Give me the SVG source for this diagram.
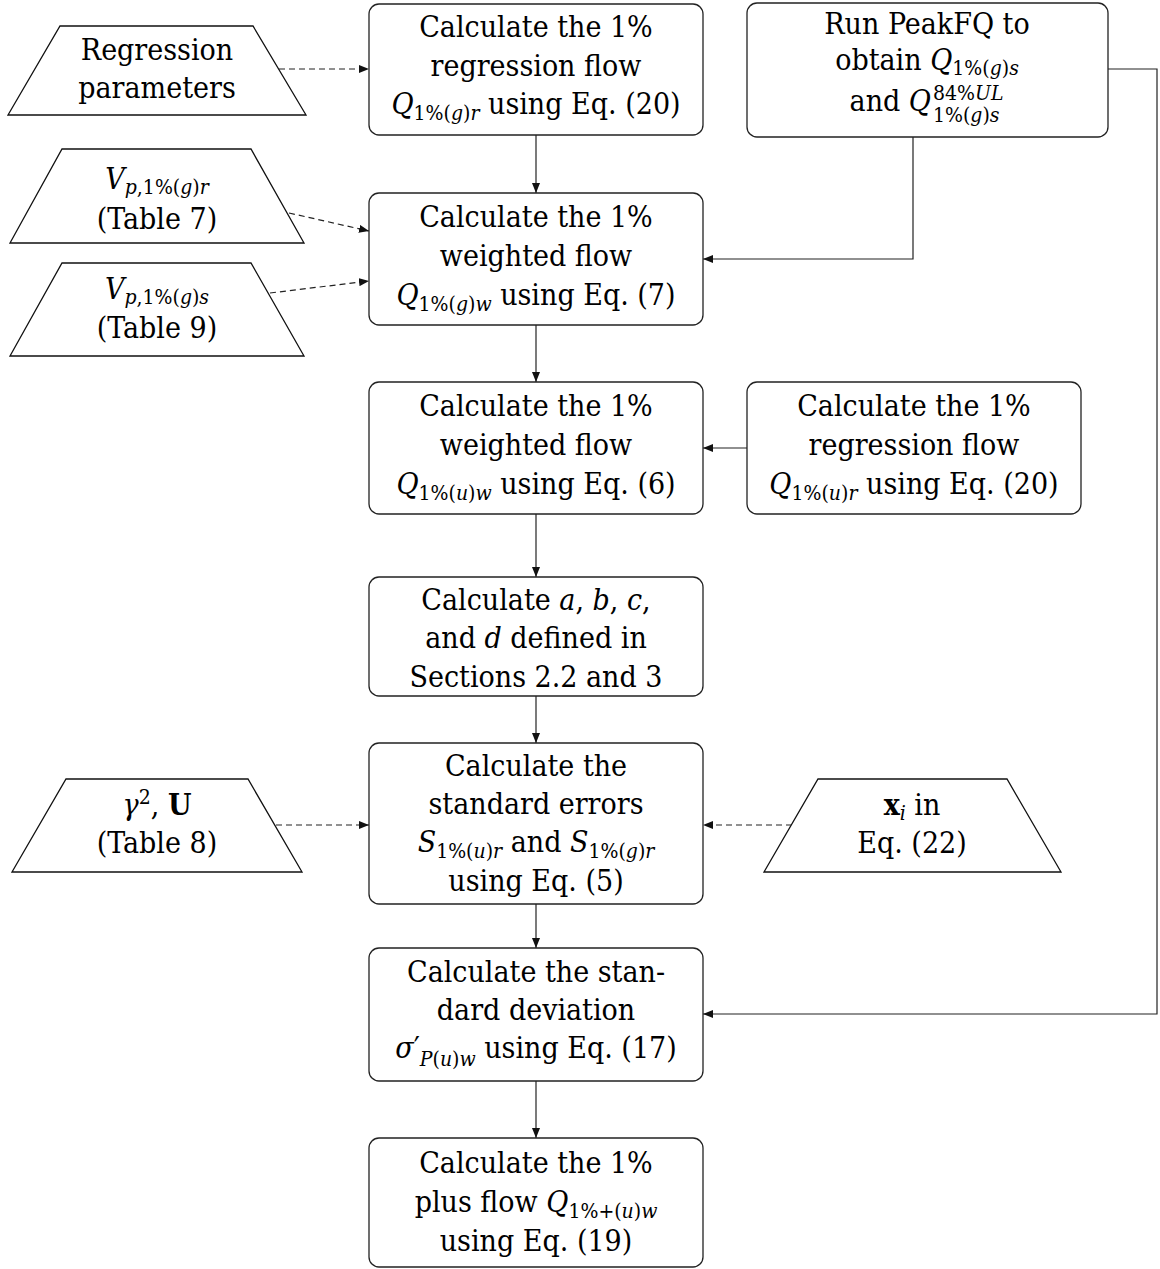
<svg xmlns="http://www.w3.org/2000/svg" width="1160" height="1269" viewBox="0 0 1160 1269">
<style>
.box{fill:#fff;stroke:#222;stroke-width:1.3}
.io{fill:#fff;stroke:#111;stroke-width:1.3}
.t,.ts{font-family:"DejaVu Serif Condensed","DejaVu Serif","Liberation Serif",serif;font-stretch:condensed;font-size:30px;fill:#000}
.t{text-anchor:middle}
.i{font-style:italic}
.b{font-weight:bold}
.s{font-size:21px}
.ln{fill:none;stroke:#222;stroke-width:1.2}
.d{fill:none;stroke:#222;stroke-width:1.2;stroke-dasharray:6 4}
</style>
<defs>
<marker id="ah" markerUnits="userSpaceOnUse" markerWidth="10" markerHeight="8" refX="10" refY="4" orient="auto">
<path d="M0,0 L10,4 L0,8 z" fill="#111"/>
</marker>
</defs>
<rect width="1160" height="1269" fill="#fff"/>

<g id="connectors">
<path class="d" d="M279,69 L369,69" marker-end="url(#ah)"/>
<path class="d" d="M289,213 L369,231" marker-end="url(#ah)"/>
<path class="d" d="M270,293 L369,281" marker-end="url(#ah)"/>
<path class="ln" d="M536,135 L536,193" marker-end="url(#ah)"/>
<path class="ln" d="M913,137 L913,259 L703,259" marker-end="url(#ah)"/>
<path class="ln" d="M1108,69 L1157,69 L1157,1014 L703,1014" marker-end="url(#ah)"/>
<path class="ln" d="M536,325 L536,382" marker-end="url(#ah)"/>
<path class="ln" d="M747,448 L703,448" marker-end="url(#ah)"/>
<path class="ln" d="M536,514 L536,577" marker-end="url(#ah)"/>
<path class="ln" d="M536,696 L536,743" marker-end="url(#ah)"/>
<path class="d" d="M276,825 L369,825" marker-end="url(#ah)"/>
<path class="d" d="M792,825 L703,825" marker-end="url(#ah)"/>
<path class="ln" d="M536,904 L536,948" marker-end="url(#ah)"/>
<path class="ln" d="M536,1081 L536,1138" marker-end="url(#ah)"/>
</g>

<g id="in-regression-params">
<polygon class="io" points="60,26 253,26 306,115 8,115"/>
<text class="t" x="157" y="60">Regression</text>
<text class="t" x="157" y="98">parameters</text>
</g>

<g id="calc-regression-g">
<rect class="box" x="369" y="4" width="334" height="131" rx="10"/>
<text class="t" x="536" y="37">Calculate the 1%</text>
<text class="t" x="536" y="76">regression flow</text>
<text class="t" x="536" y="114"><tspan class="i">Q</tspan><tspan class="s" dy="6">1%(<tspan class="i">g</tspan>)<tspan class="i">r</tspan></tspan><tspan dy="-6"> using Eq. (20)</tspan></text>
</g>

<g id="peakfq">
<rect class="box" x="747" y="3" width="361" height="134" rx="10"/>
<text class="t" x="927" y="34">Run PeakFQ to</text>
<text class="t" x="927" y="70">obtain <tspan class="i">Q</tspan><tspan class="s" dy="5">1%(<tspan class="i">g</tspan>)<tspan class="i">s</tspan></tspan></text>
<text class="ts" x="931" y="111" text-anchor="end">and <tspan class="i">Q</tspan></text>
<text class="ts s" x="933" y="100">84%<tspan class="i">UL</tspan></text>
<text class="ts s" x="933" y="122">1%(<tspan class="i">g</tspan>)<tspan class="i">s</tspan></text>
</g>

<g id="in-vp-r">
<polygon class="io" points="62,149 251,149 304,243 10,243"/>
<text class="t" x="157" y="189"><tspan class="i">V</tspan><tspan class="s" dy="5"><tspan class="i">p</tspan>,1%(<tspan class="i">g</tspan>)<tspan class="i">r</tspan></tspan></text>
<text class="t" x="157" y="229">(Table 7)</text>
</g>

<g id="in-vp-s">
<polygon class="io" points="62,263 251,263 304,356 10,356"/>
<text class="t" x="157" y="299"><tspan class="i">V</tspan><tspan class="s" dy="5"><tspan class="i">p</tspan>,1%(<tspan class="i">g</tspan>)<tspan class="i">s</tspan></tspan></text>
<text class="t" x="157" y="338">(Table 9)</text>
</g>

<g id="calc-weighted-g">
<rect class="box" x="369" y="193" width="334" height="132" rx="10"/>
<text class="t" x="536" y="227">Calculate the 1%</text>
<text class="t" x="536" y="266">weighted flow</text>
<text class="t" x="536" y="305"><tspan class="i">Q</tspan><tspan class="s" dy="6">1%(<tspan class="i">g</tspan>)<tspan class="i">w</tspan></tspan><tspan dy="-6"> using Eq. (7)</tspan></text>
</g>

<g id="calc-weighted-u">
<rect class="box" x="369" y="382" width="334" height="132" rx="10"/>
<text class="t" x="536" y="416">Calculate the 1%</text>
<text class="t" x="536" y="455">weighted flow</text>
<text class="t" x="536" y="494"><tspan class="i">Q</tspan><tspan class="s" dy="6">1%(<tspan class="i">u</tspan>)<tspan class="i">w</tspan></tspan><tspan dy="-6"> using Eq. (6)</tspan></text>
</g>

<g id="calc-regression-u">
<rect class="box" x="747" y="382" width="334" height="132" rx="10"/>
<text class="t" x="914" y="416">Calculate the 1%</text>
<text class="t" x="914" y="455">regression flow</text>
<text class="t" x="914" y="494"><tspan class="i">Q</tspan><tspan class="s" dy="6">1%(<tspan class="i">u</tspan>)<tspan class="i">r</tspan></tspan><tspan dy="-6"> using Eq. (20)</tspan></text>
</g>

<g id="calc-abcd">
<rect class="box" x="369" y="577" width="334" height="119" rx="10"/>
<text class="t" x="536" y="610">Calculate <tspan class="i">a</tspan>, <tspan class="i">b</tspan>, <tspan class="i">c</tspan>,</text>
<text class="t" x="536" y="648">and <tspan class="i">d</tspan> defined in</text>
<text class="t" x="536" y="687">Sections 2.2 and 3</text>
</g>

<g id="in-gamma-u">
<polygon class="io" points="66,779 248,779 302,872 12,872"/>
<text class="t" x="157" y="815"><tspan class="i">γ</tspan><tspan class="s" dy="-11">2</tspan><tspan dy="11">, </tspan><tspan class="b">U</tspan></text>
<text class="t" x="157" y="853">(Table 8)</text>
</g>

<g id="in-xi">
<polygon class="io" points="818,779 1007,779 1061,872 764,872"/>
<text class="t" x="912" y="815"><tspan class="b">x</tspan><tspan class="s i" dy="5">i</tspan><tspan dy="-5"> in</tspan></text>
<text class="t" x="912" y="853">Eq. (22)</text>
</g>

<g id="calc-std-errors">
<rect class="box" x="369" y="743" width="334" height="161" rx="10"/>
<text class="t" x="536" y="776">Calculate the</text>
<text class="t" x="536" y="814">standard errors</text>
<text class="t" x="536" y="852"><tspan class="i">S</tspan><tspan class="s" dy="6">1%(<tspan class="i">u</tspan>)<tspan class="i">r</tspan></tspan><tspan dy="-6"> and </tspan><tspan class="i">S</tspan><tspan class="s" dy="6">1%(<tspan class="i">g</tspan>)<tspan class="i">r</tspan></tspan></text>
<text class="t" x="536" y="891">using Eq. (5)</text>
</g>

<g id="calc-std-dev">
<rect class="box" x="369" y="948" width="334" height="133" rx="10"/>
<text class="t" x="536" y="982">Calculate the stan-</text>
<text class="t" x="536" y="1020">dard deviation</text>
<text class="t" x="536" y="1058"><tspan class="i">σ</tspan><tspan>′</tspan><tspan class="s" dy="8"><tspan class="i">P</tspan>(<tspan class="i">u</tspan>)<tspan class="i">w</tspan></tspan><tspan dy="-8"> using Eq. (17)</tspan></text>
</g>

<g id="calc-plus-flow">
<rect class="box" x="369" y="1138" width="334" height="129" rx="10"/>
<text class="t" x="536" y="1173">Calculate the 1%</text>
<text class="t" x="536" y="1212">plus flow <tspan class="i">Q</tspan><tspan class="s" dy="6">1%+(<tspan class="i">u</tspan>)<tspan class="i">w</tspan></tspan></text>
<text class="t" x="536" y="1251">using Eq. (19)</text>
</g>
</svg>
